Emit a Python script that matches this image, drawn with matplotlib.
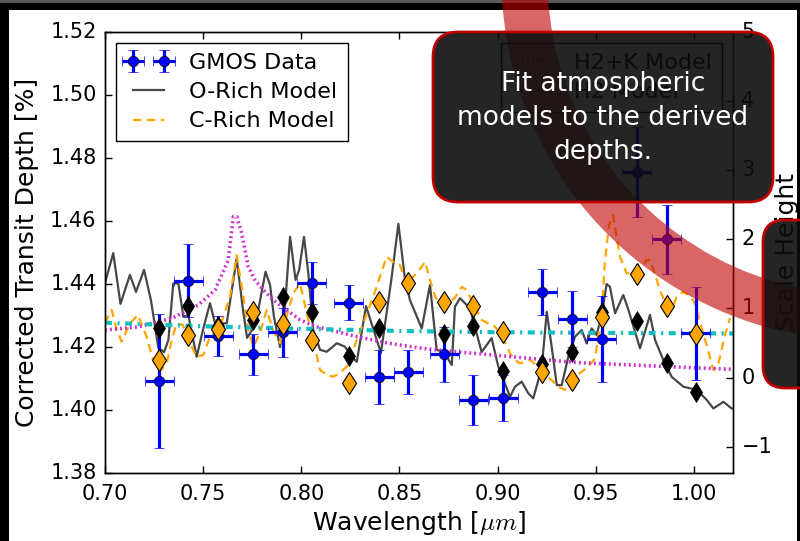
import numpy as np
import matplotlib
matplotlib.use('Agg')
import matplotlib.pyplot as plt
from matplotlib.patches import Rectangle, Wedge, FancyBboxPatch

plt.style.use('classic')
plt.rcParams['font.family'] = ['DejaVu Sans']
plt.rcParams['mathtext.fontset'] = 'cm'
plt.rcParams['lines.scale_dashes'] = False

# ---------------- data ----------------
gmos_wl = [0.7277, 0.7425, 0.7577, 0.7756, 0.7906, 0.8053, 0.8243, 0.8398, 0.8546,
           0.8729, 0.8877, 0.9030, 0.9228, 0.9381, 0.9531, 0.9709, 0.9862, 1.0010]
gmos_wl_err = [0.0074] * 18
gmos_depth = [1.4091, 1.4409, 1.4234, 1.4176, 1.4246, 1.4403, 1.4340, 1.4105, 1.4119,
              1.4176, 1.4031, 1.4038, 1.4373, 1.4288, 1.4224, 1.4756, 1.4541, 1.4243]
gmos_err = [0.0214, 0.0116, 0.0062, 0.0065, 0.0078, 0.0066, 0.0055, 0.0086, 0.0069,
            0.0088, 0.0079, 0.0073, 0.0073, 0.0088, 0.0137, 0.0143, 0.0110, 0.0148]

orich_bin = [1.4260, 1.4329, 1.4265, 1.4285, 1.4359, 1.4311, 1.4171, 1.4260, 1.4400,
             1.4239, 1.4266, 1.4124, 1.4144, 1.4184, 1.4311, 1.4282, 1.4149, 1.4055]
crich_bin = [1.4158, 1.4237, 1.4255, 1.4311, 1.4272, 1.4221, 1.4086, 1.4343, 1.4403,
             1.4343, 1.4329, 1.4246, 1.4121, 1.4094, 1.4295, 1.4431, 1.4330, 1.4240]

orich_wl = [0.7000, 0.7042, 0.7079, 0.7127, 0.7158, 0.7199, 0.7234, 0.7272, 0.7301, 0.7323,
            0.7348, 0.7374, 0.7399, 0.7424, 0.7467, 0.7499, 0.7535, 0.7561, 0.7620, 0.7671,
            0.7703, 0.7724, 0.7749, 0.7781, 0.7818, 0.7841, 0.7861, 0.7892, 0.7912, 0.7943,
            0.7971, 0.7989, 0.8014, 0.8036, 0.8061, 0.8096, 0.8130, 0.8181, 0.8223, 0.8257,
            0.8283, 0.8330, 0.8406, 0.8461, 0.8495, 0.8529, 0.8554, 0.8614, 0.8656, 0.8690,
            0.8727, 0.8767, 0.8783, 0.8809, 0.8860, 0.8919, 0.8970, 0.9004, 0.9064, 0.9089,
            0.9123, 0.9157, 0.9182, 0.9225, 0.9251, 0.9276, 0.9302, 0.9327, 0.9361, 0.9395,
            0.9429, 0.9454, 0.9480, 0.9505, 0.9531, 0.9556, 0.9573, 0.9599, 0.9641, 0.9667,
            0.9726, 0.9777, 0.9803, 0.9845, 0.9888, 0.9947, 1.0015, 1.0066, 1.0100, 1.0151,
            1.0193, 1.0200]
orich_depth = [1.4402, 1.4497, 1.4336, 1.4428, 1.4374, 1.4444, 1.4348, 1.4196, 1.4183, 1.4221,
               1.4401, 1.4401, 1.4295, 1.4301, 1.4168, 1.4253, 1.4338, 1.4274, 1.4274, 1.4480,
               1.4317, 1.4228, 1.4253, 1.4317, 1.4438, 1.4396, 1.4294, 1.4199, 1.4285, 1.4549,
               1.4412, 1.4443, 1.4549, 1.4433, 1.4253, 1.4190, 1.4184, 1.4211, 1.4200, 1.4168,
               1.4152, 1.4329, 1.4180, 1.4422, 1.4590, 1.4412, 1.4348, 1.4258, 1.4396, 1.4190,
               1.4183, 1.4142, 1.4327, 1.4354, 1.4322, 1.4183, 1.4227, 1.4137, 1.4041, 1.4073,
               1.4089, 1.4052, 1.4036, 1.4131, 1.4311, 1.4200, 1.4078, 1.4078, 1.4168, 1.4232,
               1.4253, 1.4211, 1.4258, 1.4237, 1.4301, 1.4399, 1.4390, 1.4306, 1.4364, 1.4317,
               1.4195, 1.4301, 1.4221, 1.4158, 1.4104, 1.4073, 1.4063, 1.4031, 1.4004, 1.4025,
               1.4004, 1.4004]

crich_wl = [0.7000, 0.7034, 0.7060, 0.7085, 0.7127, 0.7168, 0.7212, 0.7245, 0.7280, 0.7314,
            0.7340, 0.7365, 0.7397, 0.7433, 0.7467, 0.7501, 0.7535, 0.7586, 0.7637, 0.7671,
            0.7705, 0.7730, 0.7756, 0.7790, 0.7824, 0.7856, 0.7892, 0.7927, 0.7960, 0.7994,
            0.8028, 0.8061, 0.8096, 0.8130, 0.8163, 0.8197, 0.8240, 0.8283, 0.8316, 0.8367,
            0.8418, 0.8435, 0.8468, 0.8503, 0.8537, 0.8571, 0.8614, 0.8631, 0.8656, 0.8682,
            0.8707, 0.8749, 0.8783, 0.8818, 0.8843, 0.8885, 0.8919, 0.8953, 0.8987, 0.9028,
            0.9064, 0.9089, 0.9115, 0.9166, 0.9216, 0.9251, 0.9276, 0.9310, 0.9344, 0.9378,
            0.9420, 0.9463, 0.9497, 0.9531, 0.9548, 0.9568, 0.9589, 0.9609, 0.9624, 0.9658,
            0.9717, 0.9760, 0.9777, 0.9803, 0.9828, 0.9862, 0.9888, 0.9913, 0.9945, 0.9980,
            1.0006, 1.0032, 1.0066, 1.0100, 1.0124, 1.0159, 1.0185]
crich_depth = [1.4275, 1.4317, 1.4253, 1.4216, 1.4274, 1.4301, 1.4232, 1.4158, 1.4121, 1.4147,
               1.4221, 1.4274, 1.4269, 1.4211, 1.4168, 1.4174, 1.4232, 1.4263, 1.4359, 1.4490,
               1.4359, 1.4253, 1.4200, 1.4243, 1.4317, 1.4253, 1.4211, 1.4301, 1.4370, 1.4401,
               1.4306, 1.4221, 1.4126, 1.4110, 1.4105, 1.4116, 1.4142, 1.4221, 1.4274, 1.4359,
               1.4454, 1.4486, 1.4469, 1.4459, 1.4396, 1.4422, 1.4454, 1.4470, 1.4412, 1.4359,
               1.4332, 1.4338, 1.4355, 1.4390, 1.4380, 1.4327, 1.4285, 1.4274, 1.4264, 1.4228,
               1.4179, 1.4158, 1.4147, 1.4158, 1.4132, 1.4105, 1.4094, 1.4073, 1.4063, 1.4094,
               1.4116, 1.4137, 1.4163, 1.4306, 1.4475, 1.4586, 1.4618, 1.4539, 1.4486, 1.4433,
               1.4433, 1.4475, 1.4475, 1.4428, 1.4380, 1.4327, 1.4317, 1.4359, 1.4374, 1.4361,
               1.4338, 1.4275, 1.4205, 1.4126, 1.4142, 1.4237, 1.4291]

h2k_wl = [0.7000, 0.7170, 0.7340, 0.7475, 0.7561, 0.7628, 0.7654, 0.7671, 0.7697, 0.7713,
          0.7730, 0.7764, 0.7807, 0.7858, 0.7926, 0.7994, 0.8079, 0.8181, 0.8283, 0.8444,
          0.8614, 0.8783, 0.8936, 0.9165, 0.9420, 0.9573, 0.9862, 1.0201]
h2k_depth = [1.4253, 1.4263, 1.4290, 1.4332, 1.4380, 1.4475, 1.4613, 1.4613, 1.4560, 1.4507,
             1.4454, 1.4412, 1.4380, 1.4348, 1.4317, 1.4285, 1.4263, 1.4248, 1.4232, 1.4211,
             1.4195, 1.4184, 1.4176, 1.4163, 1.4149, 1.4145, 1.4137, 1.4128]

h2_wl = [0.700, 0.750, 0.800, 0.850, 0.900, 0.950, 1.020]
h2_depth = [1.4276, 1.4265, 1.4257, 1.4250, 1.4246, 1.4244, 1.4242]

xticks = [0.70, 0.75, 0.80, 0.85, 0.90, 0.95, 1.00]
yticks = [1.38, 1.40, 1.42, 1.44, 1.46, 1.48, 1.50, 1.52]
y2ticks = [-1, 0, 1, 2, 3, 4, 5]

# ---------------- figure ----------------
W, H = 800, 541
fig = plt.figure(figsize=(W / 100, H / 100), dpi=100, facecolor='black')
fig.add_artist(Rectangle((9 / W, 0), (797 - 9) / W, 531 / H, transform=fig.transFigure,
                         facecolor='white', edgecolor='none', zorder=-10))
fig.add_artist(Rectangle((0, 1 - 3 / H), 1, 3 / H, transform=fig.transFigure,
                         facecolor='#5a5a5a', edgecolor='none', zorder=-9))

ax = fig.add_axes([105 / W, 1 - 472.7 / H, 628 / W, 441 / H])
ax.set_facecolor('white')

l_or, = ax.plot(orich_wl, orich_depth, '-', color='black', alpha=0.72, lw=1.6,
                label='O-Rich Model', zorder=2)
l_cr, = ax.plot(crich_wl, crich_depth, '--', color='orange', lw=1.6, dashes=(6, 4),
                label='C-Rich Model', zorder=2)
l_hk, = ax.plot(h2k_wl, h2k_depth, ':', color='#d030d0', lw=2.6, dashes=(1.4, 2.2),
                label='H2+K Model', zorder=2)
l_h2, = ax.plot(h2_wl, h2_depth, '-.', color='#10c0c0', lw=3, dashes=(5, 4, 1.5, 4),
                label='H2 Model', zorder=2)
ax.plot(gmos_wl, orich_bin, 'd', color='black', mec='black', ms=10, zorder=4)
ax.plot(gmos_wl, crich_bin, 'd', color='orange', mec='black', mew=0.8, ms=11.5, zorder=4)
eb = ax.errorbar(gmos_wl, gmos_depth, yerr=gmos_err, xerr=gmos_wl_err, fmt='o',
                 color='blue', mfc='blue', mec='black', mew=0.5, ms=7.5, elinewidth=2.3,
                 capsize=3.3, capthick=2.0, label='GMOS Data', zorder=3)

ax.set_xlim(0.70, 1.02)
ax.set_ylim(1.38, 1.52)
ax.set_xticks(xticks)
ax.set_xticklabels(['%.2f' % v for v in xticks])
ax.set_yticks(yticks)
ax.set_yticklabels(['%.2f' % v for v in yticks])
ax.tick_params(axis='both', direction='in', length=5, width=1, labelsize=15)
ax.tick_params(axis='x', pad=8, top=True)
ax.tick_params(axis='y', pad=6)
ax.set_xlabel('Wavelength [$\\mu m$]', fontsize=18, labelpad=4)
ax.set_ylabel('Corrected Transit Depth [%]', fontsize=18, labelpad=8)

leg1 = ax.legend(handles=[eb, l_or, l_cr], labels=['GMOS Data', 'O-Rich Model', 'C-Rich Model'],
                 loc='upper left', fontsize=16, numpoints=2, handlelength=2,
                 handletextpad=0.85, labelspacing=0.42, borderpad=0.45, fancybox=False,
                 frameon=True, borderaxespad=0.5)
leg1.get_frame().set_edgecolor('black')
ax.add_artist(leg1)
leg2 = ax.legend(handles=[l_hk, l_h2], labels=['H2+K Model', 'H2 Model'],
                 loc='upper right', fontsize=16, numpoints=2, handlelength=2,
                 handletextpad=0.85, labelspacing=0.42, borderpad=0.45, fancybox=False,
                 borderaxespad=0.5)
leg2.get_frame().set_edgecolor('black')

ax2 = ax.twinx()
ax2.set_ylim(-1.376, 5)
ax2.set_yticks(y2ticks)
ax2.set_yticklabels(['\u2212%d' % -v if v < 0 else '%d' % v for v in y2ticks])
ax2.tick_params(axis='y', direction='in', length=5, width=1, labelsize=15, pad=6)
ax2.set_ylabel('Scale Height', fontsize=18, labelpad=2)

# ---------------- slide overlays ----------------
dt = fig.dpi_scale_trans
band = Wedge((8.64, (H + 22) / 100), 3.625, 160, 285, width=0.46, transform=dt,
             facecolor='#c00000', edgecolor='none', alpha=0.6, zorder=10)
fig.add_artist(band)

box1 = FancyBboxPatch((4.33, (H - 202) / 100), 3.40, 1.70,
                      boxstyle='round,pad=0,rounding_size=0.25', transform=dt,
                      facecolor=(0.05, 0.05, 0.05, 0.9), edgecolor='#c00000', lw=2,
                      zorder=11)
fig.add_artist(box1)
box2 = FancyBboxPatch((7.63, (H - 388) / 100), 1.0, 1.68,
                      boxstyle='round,pad=0,rounding_size=0.22', transform=dt,
                      facecolor=(0.05, 0.05, 0.05, 0.9), edgecolor='#c00000', lw=2,
                      zorder=11)
fig.add_artist(box2)
fig.text(603 / W, 1 - 118 / H, 'Fit atmospheric\nmodels to the derived\ndepths.',
         ha='center', va='center', color='white', fontsize=19, family=['DejaVu Sans'],
         linespacing=1.4, zorder=12)

fig.savefig('out.png', dpi=100, facecolor=fig.get_facecolor())
